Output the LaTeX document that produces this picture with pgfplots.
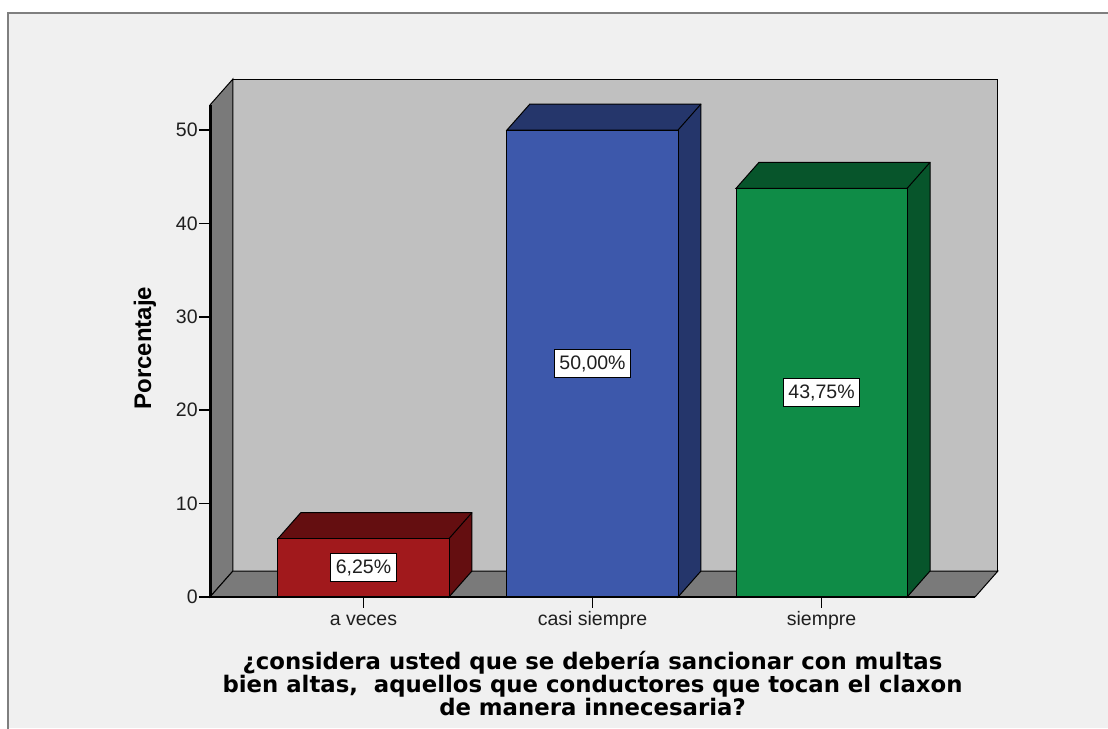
\documentclass[border=0pt]{standalone}
\usepackage{pgfplots}
\pgfplotsset{compat=1.18}
\usepackage{pgfplotstable}
\usepackage{fontspec}
\setmainfont{Liberation Sans}
\newfontfamily\titlefont{DejaVu Sans}
\definecolor{bgc}{HTML}{F0F0F0}
\definecolor{framec}{HTML}{7F7F7F}
\definecolor{wallback}{HTML}{C0C0C0}
\definecolor{wallside}{HTML}{7A7A7A}
\definecolor{redf}{HTML}{A1191C}
\definecolor{redd}{HTML}{640E10}
\definecolor{bluef}{HTML}{3D58AB}
\definecolor{blued}{HTML}{25366B}
\definecolor{greenf}{HTML}{0F8C47}
\definecolor{greend}{HTML}{07552B}

\pgfplotstableread{
x v lab
0 6.25 6,25\%
1 50.00 50,00\%
2 43.75 43,75\%
}\datatable

% depth faces of a 3D bar: center, value, colour
\newcommand{\depthfaces}[3]{%
  \filldraw[fill=#3, draw=black, line width=0.5pt]
    (axis cs:{#1-0.3735},{#2}) -- (axis cs:{#1-0.2735},{#2+2.78}) --
    (axis cs:{#1+0.4735},{#2+2.78}) -- (axis cs:{#1+0.4735},2.78) --
    (axis cs:{#1+0.3735},0) -- (axis cs:{#1+0.3735},{#2}) -- cycle;
  \draw[black, line width=0.5pt] (axis cs:{#1+0.3735},{#2}) -- (axis cs:{#1+0.4735},{#2+2.78});
}

\begin{document}
\begin{tikzpicture}
\useasboundingbox (0,0) rectangle (554pt,364pt);
\fill[white] (0,0) rectangle (554pt,364pt);
\fill[bgc] (4pt,0) rectangle (554pt,357.5pt);
\draw[framec, line width=1pt] (4pt,-2pt) -- (4pt,357.5pt) -- (556pt,357.5pt);
\begin{axis}[
  at={(105pt,65.5pt)}, anchor=south west,
  scale only axis, width=382.5pt, height=246pt,
  xmin=-0.67, xmax=2.67, ymin=0, ymax=52.68,
  clip=false, axis on top,
  axis x line=bottom, axis y line=left,
  axis line style={-},
  x axis line style={-, line width=0.6pt},
  y axis line style={-, line width=1.5pt},
  xtick={0,1,2}, xticklabels={a veces, casi siempre, siempre},
  ytick={0,10,20,30,40,50},
  tick align=outside, major tick length=5.5pt,
  tick style={black, line width=0.8pt},
  ticklabel style={font=\fontsize{9.75}{11}\selectfont, text=black!88},
  xticklabel style={text height=7.2pt, text depth=2pt, inner sep=1.5pt},
  yticklabel style={inner sep=0.5pt},
  /pgf/number format/assume math mode=true,
  ylabel={\textbf{Porcentaje}},
  ylabel style={at={(axis description cs:-0.085,0.506)}, anchor=center, font=\fontsize{12}{14}\selectfont},
  xlabel={¿considera usted que se debería sancionar con multas\\bien altas,\ \ aquellos que conductores que tocan el claxon\\de manera innecesaria?},
  xlabel style={at={(axis description cs:0.5,-0.1098)}, anchor=north, align=center, inner sep=0pt,
    font=\titlefont\bfseries\fontsize{11.4}{11.5}\selectfont},
]
% walls
\filldraw[fill=wallback, draw=black, line width=0.5pt] (axis cs:-0.57,2.78) rectangle (axis cs:2.77,55.46);
\filldraw[fill=wallside, draw=black, line width=0.5pt] (axis cs:-0.67,0) -- (axis cs:-0.67,52.68) -- (axis cs:-0.57,55.46) -- (axis cs:-0.57,2.78) -- cycle;
\filldraw[fill=wallside, draw=black, line width=0.5pt] (axis cs:-0.67,0) -- (axis cs:2.67,0) -- (axis cs:2.77,2.78) -- (axis cs:-0.57,2.78) -- cycle;
% depth faces
\depthfaces{0}{6.25}{redd}
\depthfaces{1}{50}{blued}
\depthfaces{2}{43.75}{greend}
% front faces
\addplot[ybar, bar width=0.747, bar shift=0, fill=redf, draw=black, line width=0.5pt] table[x=x, y=v, skip coords between index={1}{3}] {\datatable};
\addplot[ybar, bar width=0.747, bar shift=0, fill=bluef, draw=black, line width=0.5pt] table[x=x, y=v, skip coords between index={0}{1}, skip coords between index={2}{3}] {\datatable};
\addplot[ybar, bar width=0.747, bar shift=0, fill=greenf, draw=black, line width=0.5pt] table[x=x, y=v, skip coords between index={0}{2}] {\datatable};
% value labels
\addplot[draw=none, mark=none, nodes near coords, point meta=explicit symbolic,
  every node near coord/.append style={anchor=center, fill=white, draw=black, line width=0.5pt,
    inner xsep=2.5pt, inner ysep=0pt, minimum height=14pt, text=black!88, font=\fontsize{9.75}{11}\selectfont}]
  table[x=x, y expr=\thisrow{v}/2, meta=lab] {\datatable};
\end{axis}
\end{tikzpicture}
\end{document}
